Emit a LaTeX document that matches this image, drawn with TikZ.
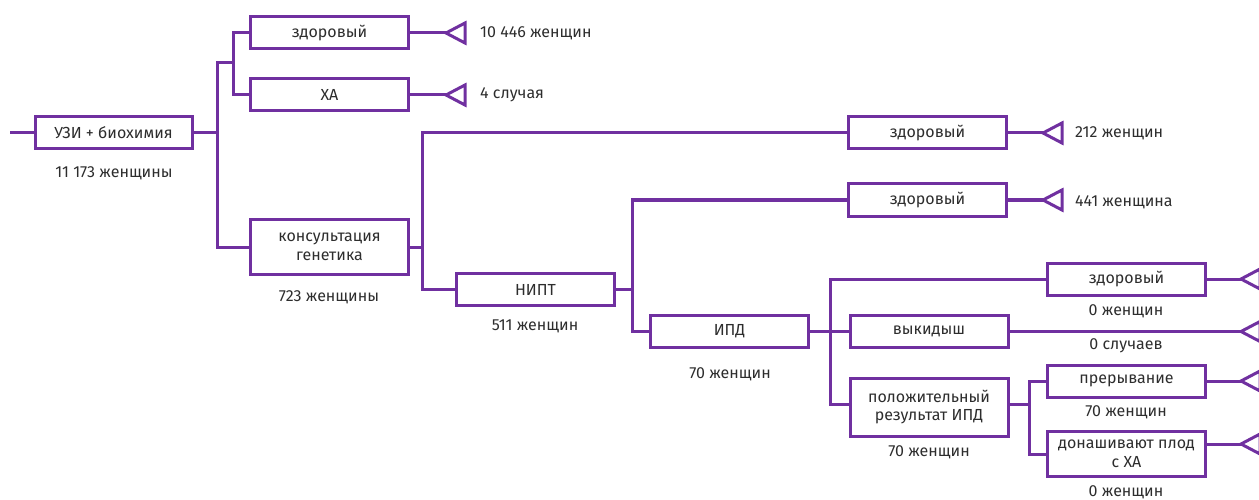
\documentclass[tikz,border=0pt]{standalone}
\usepackage{fontspec}
\setmainfont{Fira Sans}
\definecolor{vio}{RGB}{112,48,160}
\definecolor{txt}{RGB}{45,45,45}
\begin{document}
\begin{tikzpicture}[x=1pt,y=-1pt,
  font=\fontsize{16}{18.5}\selectfont, text=txt,
  ln/.style={draw=vio,line width=3pt,line join=miter},
  box/.style={ln,rectangle,minimum width=158pt,minimum height=32pt,inner sep=2pt,align=center,fill=white},
  lbl/.style={inner sep=0pt,anchor=center},
  tip/.style={ln}]
\useasboundingbox (0,0) rectangle (1259,500);
\clip (0,0) rectangle (1259,500);
% boxes
\node[box,minimum width=157pt] (uzi) at (113.5,133) {УЗИ + биохимия};
\node[box] (zd1) at (329.5,33) {здоровый};
\node[box] (xa) at (329.5,95) {ХА};
\node[box,minimum height=55pt] (kons) at (329.5,247) {консультация\\генетика};
\node[box] (nipt) at (535.5,289.5) {НИПТ};
\node[box] (zd2) at (927.5,133) {здоровый};
\node[box] (zd3) at (927.5,200) {здоровый};
\node[box] (ipd) at (729.5,331.5) {ИПД};
\node[box] (zd4) at (1126.5,279) {здоровый};
\node[box] (vyk) at (929,331.5) {выкидыш};
\node[box,minimum height=58pt] (pol) at (929,407) {положительный\\результат ИПД};
\node[box] (prer) at (1126.5,381) {прерывание};
\node[box,minimum height=45pt] (don) at (1126.5,454) {донашивают плод\\с ХА};
% count labels
\node[lbl] (luzi) at (114,173) {11 173 женщины};
\node[lbl] (lkons) at (329,297) {723 женщины};
\node[lbl] (lnipt) at (535,326) {511 женщин};
\node[lbl] (lipd) at (730,374) {70 женщин};
\node[lbl] (lzd4) at (1126,311) {0 женщин};
\node[lbl] (lvyk) at (1126,346) {0 случаев};
\node[lbl] (lpol) at (929,452) {70 женщин};
\node[lbl] (lprer) at (1126,412) {70 женщин};
\node[lbl] (ldon) at (1126,492) {0 женщин};
% connectors
\coordinate (start) at (10,133);
\draw[ln] (start) -- (uzi.west);
\coordinate (j1) at (217,63);
\coordinate (b2) at (233,63);
\draw[ln] (uzi.east) -- (uzi.east -| j1);
\draw[ln] (kons.west) -| (j1) -- (b2);
\draw[ln] (zd1.west) -| (b2) |- (xa.west);
\coordinate (b3) at ([xshift=12pt]kons.east);
\draw[ln] (kons.east) -- (b3);
\draw[ln] (zd2.west) -| (b3) |- (nipt.west);
\coordinate (b4) at ([xshift=16pt]nipt.east);
\draw[ln] (nipt.east) -- (b4);
\draw[ln] (zd3.west) -| (b4) |- (ipd.west);
\coordinate (b5) at ([xshift=20pt]ipd.east);
\draw[ln] (ipd.east) -- (b5);
\draw[ln] (zd4.west) -| (b5) |- ([yshift=3pt]pol.west);
\draw[ln] (b5) -- (vyk.west);
\coordinate (b6) at ([xshift=20pt]pol.east);
\draw[ln] ([yshift=3pt]pol.east) -- ([yshift=3pt]b6);
\draw[ln] (prer.west) -| (b6) |- (don.west);
% leaves
\coordinate (t1) at (446,33);
\coordinate (t2) at (446,95);
\coordinate (t3) at (1043,133);
\coordinate (t4) at (1043,200);
\coordinate (t5) at (1241,279);
\coordinate (t6) at (1241,331.5);
\coordinate (t7) at (1241,381);
\coordinate (t8) at (1241,444);
\draw[ln] (zd1.east) -- (t1);
\draw[ln] (xa.east) -- (t2);
\draw[ln] (zd2.east) -- (t3);
\draw[ln] (zd3.east) -- (t4);
\draw[ln] (zd4.east) -- (t5);
\draw[ln] (vyk.east) -- (t6);
\draw[ln] (prer.east) -- (t7);
\draw[ln] (don.east |- t8) -- (t8);
\foreach \t in {t1,t2,t3,t4,t5,t6,t7,t8}
  \draw[tip] (\t) -- ++(19,-10) -- ++(0,20) -- cycle;
\node[lbl,anchor=west] (l1) at (480,33) {10 446 женщин};
\node[lbl,anchor=west] (l2) at (480,95) {4 случая};
\node[lbl,anchor=west] (l3) at (1075,133) {212 женщин};
\node[lbl,anchor=west] (l4) at (1075,202) {441 женщина};
\end{tikzpicture}
\end{document}
